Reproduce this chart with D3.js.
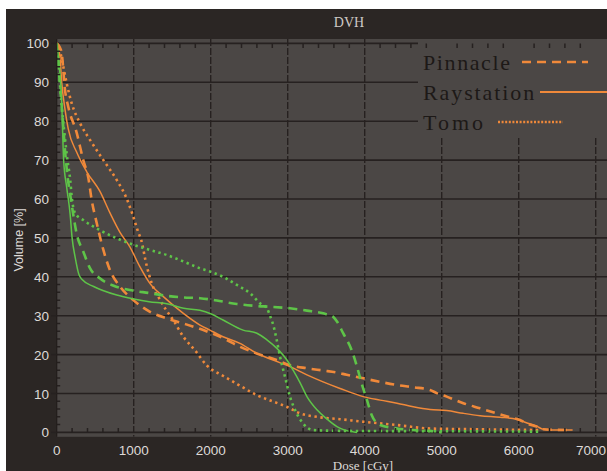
<!DOCTYPE html>
<html>
<head>
<meta charset="utf-8">
<script src="https://cdn.jsdelivr.net/npm/d3@7"></script>
<style>
  html, body { margin: 0; padding: 0; background: #ffffff; }
  svg { display: block; }
</style>
</head>
<body>
<svg id="chart" width="607" height="471"></svg>
<script>
// Dose-volume histogram: two structures (orange, green), each planned with three systems.
const xTicks = [0, 1000, 2000, 3000, 4000, 5000, 6000, 7000];
const yTicks = [0, 10, 20, 30, 40, 50, 60, 70, 80, 90, 100];
const systems = ["Pinnacle", "Raystation", "Tomo"];

// [dose cGy, volume %]
const orangePinnacle = [[0,100],[40,99],[65,97.5],[108,88],[150,83.7],[260,77],[345,70],[410,65.5],[455,59.7],[520,53.8],[606,46.9],[692,41.7],[822,37.5],[995,34],[1212,31],[1429,29.3],[1645,28],[1905,26.3],[2164,24.2],[2381,22],[2597,20.3],[2857,18.6],[3030,17.3],[3247,16.5],[3463,15.9],[3636,15.4],[3766,14.8],[3982,13.9],[4199,13],[4416,12.2],[4632,11.6],[4848,10.9],[4935,10.1],[5065,9.2],[5281,7.5],[5498,6.2],[5714,4.9],[5887,3.9],[6017,3.2],[6104,2.3],[6234,1.5],[6320,0.8],[6670,0.6]];
const orangeRaystation = [[0,100],[40,97],[65,90],[108,83],[150,78],[260,72],[390,67],[560,62],[690,56.5],[820,51.5],[950,47.7],[1080,42.6],[1210,38.3],[1385,34.9],[1645,30.6],[1861,27.6],[1990,26.3],[2160,24.6],[2380,22.9],[2600,20.3],[2810,18.6],[3030,16.9],[3250,14.8],[3460,13],[3680,11.3],[3980,9.2],[4200,8.3],[4420,7.5],[4630,6.6],[4850,5.9],[5065,5.6],[5280,4.9],[5500,4.3],[5760,3.9],[5970,3.4],[6100,2.5],[6230,1.6],[6320,0.8],[6400,0.6],[6700,0.6]];
const orangeTomo = [[0,100],[43,98],[86,94],[130,89.7],[195,84.6],[303,79.5],[432,75.2],[606,70],[779,64.9],[900,60.5],[980,56.3],[1050,52],[1110,48.5],[1150,44.5],[1200,40.5],[1260,37],[1330,34.5],[1420,31.5],[1500,29.3],[1645,24.6],[1800,21],[1950,17.2],[2164,14.5],[2381,12],[2597,9.6],[2814,7.9],[2987,6.6],[3160,4.9],[3377,4.0],[3680,3.4],[3982,2.75],[4416,1.9],[4848,1.0],[5500,0.8],[6300,0.6]];
const greenPinnacle = [[0,100],[40,90],[80,80],[110,72],[140,66],[180,60.5],[215,56],[260,51],[345,46.5],[430,42.3],[560,39.6],[740,37.7],[950,36.6],[1210,35.8],[1430,35.1],[1650,34.7],[1860,34.5],[2080,33.9],[2340,33],[2600,32.5],[2770,32.3],[3030,31.9],[3250,31.3],[3460,30.6],[3590,29.7],[3640,28.5],[3720,25.5],[3830,21.2],[3900,16.9],[3960,12.6],[4030,8.3],[4090,4.5],[4200,1.9],[4420,1],[4630,0.6],[4850,0.4],[5000,0]];
const greenRaystation = [[0,100],[30,95],[65,85],[90,70],[130,63],[175,56],[200,50],[240,45],[290,40.5],[330,39.3],[480,37.5],[780,35.3],[1000,34.3],[1200,33.6],[1430,33.1],[1650,31.9],[1860,31.4],[2000,30.5],[2160,28.9],[2420,26.3],[2600,25.5],[2730,23.8],[2860,21.6],[2990,18.6],[3070,16],[3160,12.8],[3250,9.2],[3380,5.8],[3500,3.6],[3640,1.5],[3700,0.9],[3800,0.3],[3900,0]];
const greenTomo = [[0,100],[30,93],[60,85],[100,77],[140,70],[175,65],[195,60.6],[240,56.3],[345,54.6],[560,52],[780,49.9],[1000,48.2],[1210,46.9],[1430,45.6],[1650,43.9],[1860,42.2],[2000,41.3],[2160,40],[2340,37.9],[2510,35.8],[2640,33.2],[2730,31.9],[2770,30],[2814,27.5],[2857,23.8],[2900,19.5],[2965,14.3],[3030,9.2],[3117,4.9],[3200,2.3],[3330,0.6],[3680,0.4],[5000,0.3],[6300,0.2]];

const ORANGE = "#f0893a";
const GREEN = "#5ec448";
const FRAME = "#2b2624";
const PLOT_BG = "#4b4745";
const GRID = "#262120";

const styles = {
  Pinnacle:   { width: 2.6, dash: "9,6" },
  Raystation: { width: 1.5, dash: null },
  Tomo:       { width: 2.6, dash: "2.4,3.6" }
};

const curves = [
  { sys: "Pinnacle", color: ORANGE, data: orangePinnacle },
  { sys: "Raystation", color: ORANGE, data: orangeRaystation },
  { sys: "Tomo", color: ORANGE, data: orangeTomo },
  { sys: "Pinnacle", color: GREEN, data: greenPinnacle },
  { sys: "Raystation", color: GREEN, data: greenRaystation },
  { sys: "Tomo", color: GREEN, data: greenTomo }
];

const svg = d3.select("#chart");
const W = 607, H = 471;

const x = d3.scaleLinear().domain([0, 7000]).range([56.7, 595.7]);
const y = d3.scaleLinear().domain([0, 100]).range([432.4, 43.4]);

const plotLeft = 56.7, plotTop = 39, plotRight = W, plotBottom = 436.8;
const SANS = "'Liberation Sans', Arial, sans-serif";
const SERIF = "'Liberation Serif', 'Times New Roman', serif";

// outer dark frame
svg.append("rect").attr("x", 6).attr("y", 9).attr("width", W - 6).attr("height", H - 9).attr("fill", FRAME);

// title
svg.append("text").attr("x", 349).attr("y", 27).attr("text-anchor", "middle")
  .attr("font-family", SERIF).attr("font-size", 14)
  .attr("fill", "#cfcac6").text("DVH");

// plot background
svg.append("rect").attr("x", plotLeft).attr("y", plotTop)
  .attr("width", plotRight - plotLeft).attr("height", plotBottom - plotTop).attr("fill", PLOT_BG);

svg.append("clipPath").attr("id", "plotclip")
  .append("rect").attr("x", plotLeft).attr("y", plotTop)
  .attr("width", plotRight - plotLeft).attr("height", plotBottom - plotTop);

const g = svg.append("g").attr("clip-path", "url(#plotclip)");

// horizontal gridlines
g.selectAll(".hgrid").data(yTicks).join("line")
  .attr("x1", plotLeft).attr("x2", plotRight)
  .attr("y1", d => y(d)).attr("y2", d => y(d))
  .attr("stroke", GRID).attr("stroke-width", 1.6);

// vertical dashed gridlines
g.selectAll(".vgrid").data(xTicks.filter(d => d > 0)).join("line")
  .attr("x1", d => x(d)).attr("x2", d => x(d))
  .attr("y1", plotTop).attr("y2", plotBottom)
  .attr("stroke", GRID).attr("stroke-width", 1.4).attr("stroke-dasharray", "7,2");

// legend panel
svg.append("rect").attr("x", 418).attr("y", 39).attr("width", W - 418).attr("height", 99).attr("fill", PLOT_BG);

// minor ticks on top / bottom every 200 cGy, left every 2 %
const minorX = d3.range(200, 7200, 200).filter(d => d % 1000 !== 0);
const minorY = d3.range(2, 100, 2).filter(d => d % 10 !== 0);
const tickG = svg.append("g").attr("clip-path", "url(#plotclip)");
tickG.selectAll(".tt").data(minorX).join("line")
  .attr("x1", d => x(d)).attr("x2", d => x(d)).attr("y1", y(100)).attr("y2", y(100) + 4.5)
  .attr("stroke", GRID).attr("stroke-width", 1.5);
tickG.selectAll(".bt").data(minorX).join("line")
  .attr("x1", d => x(d)).attr("x2", d => x(d)).attr("y1", y(0)).attr("y2", y(0) - 4.5)
  .attr("stroke", GRID).attr("stroke-width", 1.5);
tickG.selectAll(".lt").data(minorY).join("line")
  .attr("x1", plotLeft).attr("x2", plotLeft + 3.5).attr("y1", d => y(d)).attr("y2", d => y(d))
  .attr("stroke", GRID).attr("stroke-width", 1.5);

// left border
svg.append("line").attr("x1", plotLeft).attr("x2", plotLeft).attr("y1", plotTop).attr("y2", plotBottom)
  .attr("stroke", "#221d1b").attr("stroke-width", 1.2);

// curves
const line = d3.line().x(d => x(d[0])).y(d => y(d[1])).curve(d3.curveMonotoneX);
g.selectAll(".curve").data(curves).join("path")
  .attr("d", d => line(d.data))
  .attr("fill", "none")
  .attr("stroke", d => d.color)
  .attr("stroke-width", d => styles[d.sys].width)
  .attr("stroke-dasharray", d => styles[d.sys].dash);

// y axis labels + outer major ticks
svg.selectAll(".ylab").data(yTicks).join("text")
  .attr("x", 49).attr("y", d => y(d) + 5).attr("text-anchor", "end")
  .attr("font-family", SANS).attr("font-size", 13.5)
  .attr("fill", "#dedad7").text(d => d);
svg.selectAll(".ymaj").data(yTicks).join("line")
  .attr("x1", 51).attr("x2", plotLeft).attr("y1", d => y(d)).attr("y2", d => y(d))
  .attr("stroke", GRID).attr("stroke-width", 1.4);

// x axis labels (the last one sits against the right edge)
svg.selectAll(".xlab").data(xTicks).join("text")
  .attr("x", (d, i) => i === xTicks.length - 1 ? W - 1 : x(d))
  .attr("y", 455)
  .attr("text-anchor", (d, i) => i === xTicks.length - 1 ? "end" : "middle")
  .attr("font-family", SANS).attr("font-size", 13.5)
  .attr("fill", "#dedad7").text(d => d);

// axis titles
svg.append("text").attr("transform", "translate(23,240) rotate(-90)").attr("text-anchor", "middle")
  .attr("font-family", SANS).attr("font-size", 12.5)
  .attr("fill", "#dedad7").text("Volume [%]");
svg.append("text").attr("x", 363).attr("y", 469.5).attr("text-anchor", "middle")
  .attr("font-family", SERIF).attr("font-size", 13)
  .attr("fill", "#dedad7").text("Dose [cGy]");

// legend entries
const legendRows = [
  { name: systems[0], y: 70, lx1: 522, lx2: 588, spacing: 1.6 },
  { name: systems[1], y: 100, lx1: 540, lx2: 607, spacing: 1.9 },
  { name: systems[2], y: 130, lx1: 498, lx2: 563, spacing: 3.0 }
];
const leg = svg.append("g");
leg.selectAll("text").data(legendRows).join("text")
  .attr("x", 423).attr("y", d => d.y)
  .attr("font-family", SERIF).attr("font-size", 22)
  .attr("letter-spacing", d => d.spacing)
  .attr("fill", "#1d1917").text(d => d.name);
leg.selectAll("line").data(legendRows).join("line")
  .attr("x1", d => d.lx1).attr("x2", d => d.lx2)
  .attr("y1", d => d.y - 8).attr("y2", d => d.y - 8)
  .attr("stroke", ORANGE)
  .attr("stroke-width", d => d.name === "Raystation" ? 2.2 : 2.6)
  .attr("stroke-dasharray", d => d.name === "Pinnacle" ? "9,6" : d.name === "Tomo" ? "2,1.6" : null);
</script>
</body>
</html>
